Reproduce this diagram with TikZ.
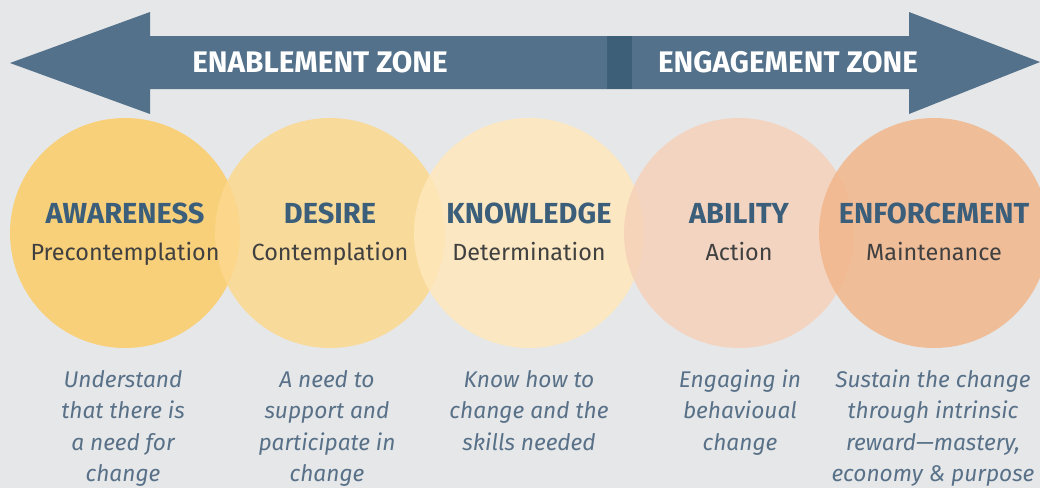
\documentclass[tikz,border=0pt]{standalone}
\usepackage{fontspec}
\setmainfont{Fira Sans}
\definecolor{bgc}{RGB}{230,231,233}
\definecolor{arrowc}{RGB}{83,113,138}
\definecolor{divc}{RGB}{61,95,120}
\definecolor{headc}{RGB}{59,94,123}
\definecolor{subc}{RGB}{64,64,64}
\definecolor{descc}{RGB}{88,113,136}
\definecolor{cA}{RGB}{249,208,122}
\definecolor{cB}{RGB}{252,216,142}
\definecolor{cC}{RGB}{255,231,186}
\definecolor{cD}{RGB}{246,209,185}
\definecolor{cE}{RGB}{241,182,138}
\tikzset{
  zonetext/.style={font=\fontsize{29.75}{31}\selectfont\bfseries, text=white, anchor=base, inner sep=0pt},
  headtext/.style={font=\fontsize{29}{31}\selectfont\bfseries, text=headc, anchor=base, inner sep=0pt},
  subtext/.style={font=\fontsize{23.4}{26}\selectfont, text=subc, anchor=base, inner sep=0pt},
  desctext/.style={font=\fontsize{22.7}{25}\selectfont\itshape, text=descc, anchor=base, inner sep=0pt},
  stage/.style={circle, minimum size=230pt, inner sep=0pt, draw=none},
}
\begin{document}
\begin{tikzpicture}[x=1pt,y=-1pt]
\useasboundingbox (0,0) rectangle (1040,488);
\fill[bgc] (0,0) rectangle (1040,488);
% arrow
\fill[arrowc] (10,63) -- (150,12) -- (150,36) -- (909,36) -- (909,12) -- (1040,62)
  -- (909,114) -- (909,89) -- (150,89) -- (150,114) -- cycle;
\fill[divc] (607,36) rectangle (632,89);
\node[zonetext] (enab) at (320,72.5) {ENABLEMENT ZONE};
\node[zonetext] (enga) at (788,72.5) {ENGAGEMENT ZONE};
% circles
\begin{scope}
\clip (0,0) rectangle (1040,488);
\node[stage, fill=cA] (c1) at (125,233) {};
\node[stage, fill=cB, fill opacity=0.85] (c2) at (330,233) {};
\node[stage, fill=cC, fill opacity=0.85] (c3) at (529,233) {};
\node[stage, fill=cD, fill opacity=0.85] (c4) at (739,233) {};
\node[stage, fill=cE, fill opacity=0.85] (c5) at (934,233) {};
\end{scope}
% headings
\node[headtext] (h1) at (125,223) {AWARENESS};
\node[headtext] (h2) at (330,223) {DESIRE};
\node[headtext] (h3) at (529,223) {KNOWLEDGE};
\node[headtext] (h4) at (739,223) {ABILITY};
\node[headtext] (h5) at (934,223) {ENFORCEMENT};
\node[subtext] (s1) at (125,260) {Precontemplation};
\node[subtext] (s2) at (330,260) {Contemplation};
\node[subtext] (s3) at (529,260) {Determination};
\node[subtext] (s4) at (739,260) {Action};
\node[subtext] (s5) at (934,260) {Maintenance};
% descriptions
\node[desctext] (d1a) at (123,387) {Understand};
\node[desctext] (d1b) at (123,418.5) {that there is};
\node[desctext] (d1c) at (123,450) {a need for};
\node[desctext] (d1d) at (123,481.5) {change};
\node[desctext] (d2a) at (327,387) {A need to};
\node[desctext] (d2b) at (327,418.5) {support and};
\node[desctext] (d2c) at (327,450) {participate in};
\node[desctext] (d2d) at (327,481.5) {change};
\node[desctext] (d3a) at (529,387) {Know how to};
\node[desctext] (d3b) at (529,418.5) {change and the};
\node[desctext] (d3c) at (529,450) {skills needed};
\node[desctext] (d4a) at (740,387) {Engaging in};
\node[desctext] (d4b) at (740,418.5) {behavioual};
\node[desctext] (d4c) at (740,450) {change};
\node[desctext] (d5a) at (933,387) {Sustain the change};
\node[desctext] (d5b) at (933,418.5) {through intrinsic};
\node[desctext] (d5c) at (933,450) {reward---mastery,};
\node[desctext] (d5d) at (933,481.5) {economy \& purpose};
\end{tikzpicture}
\end{document}
